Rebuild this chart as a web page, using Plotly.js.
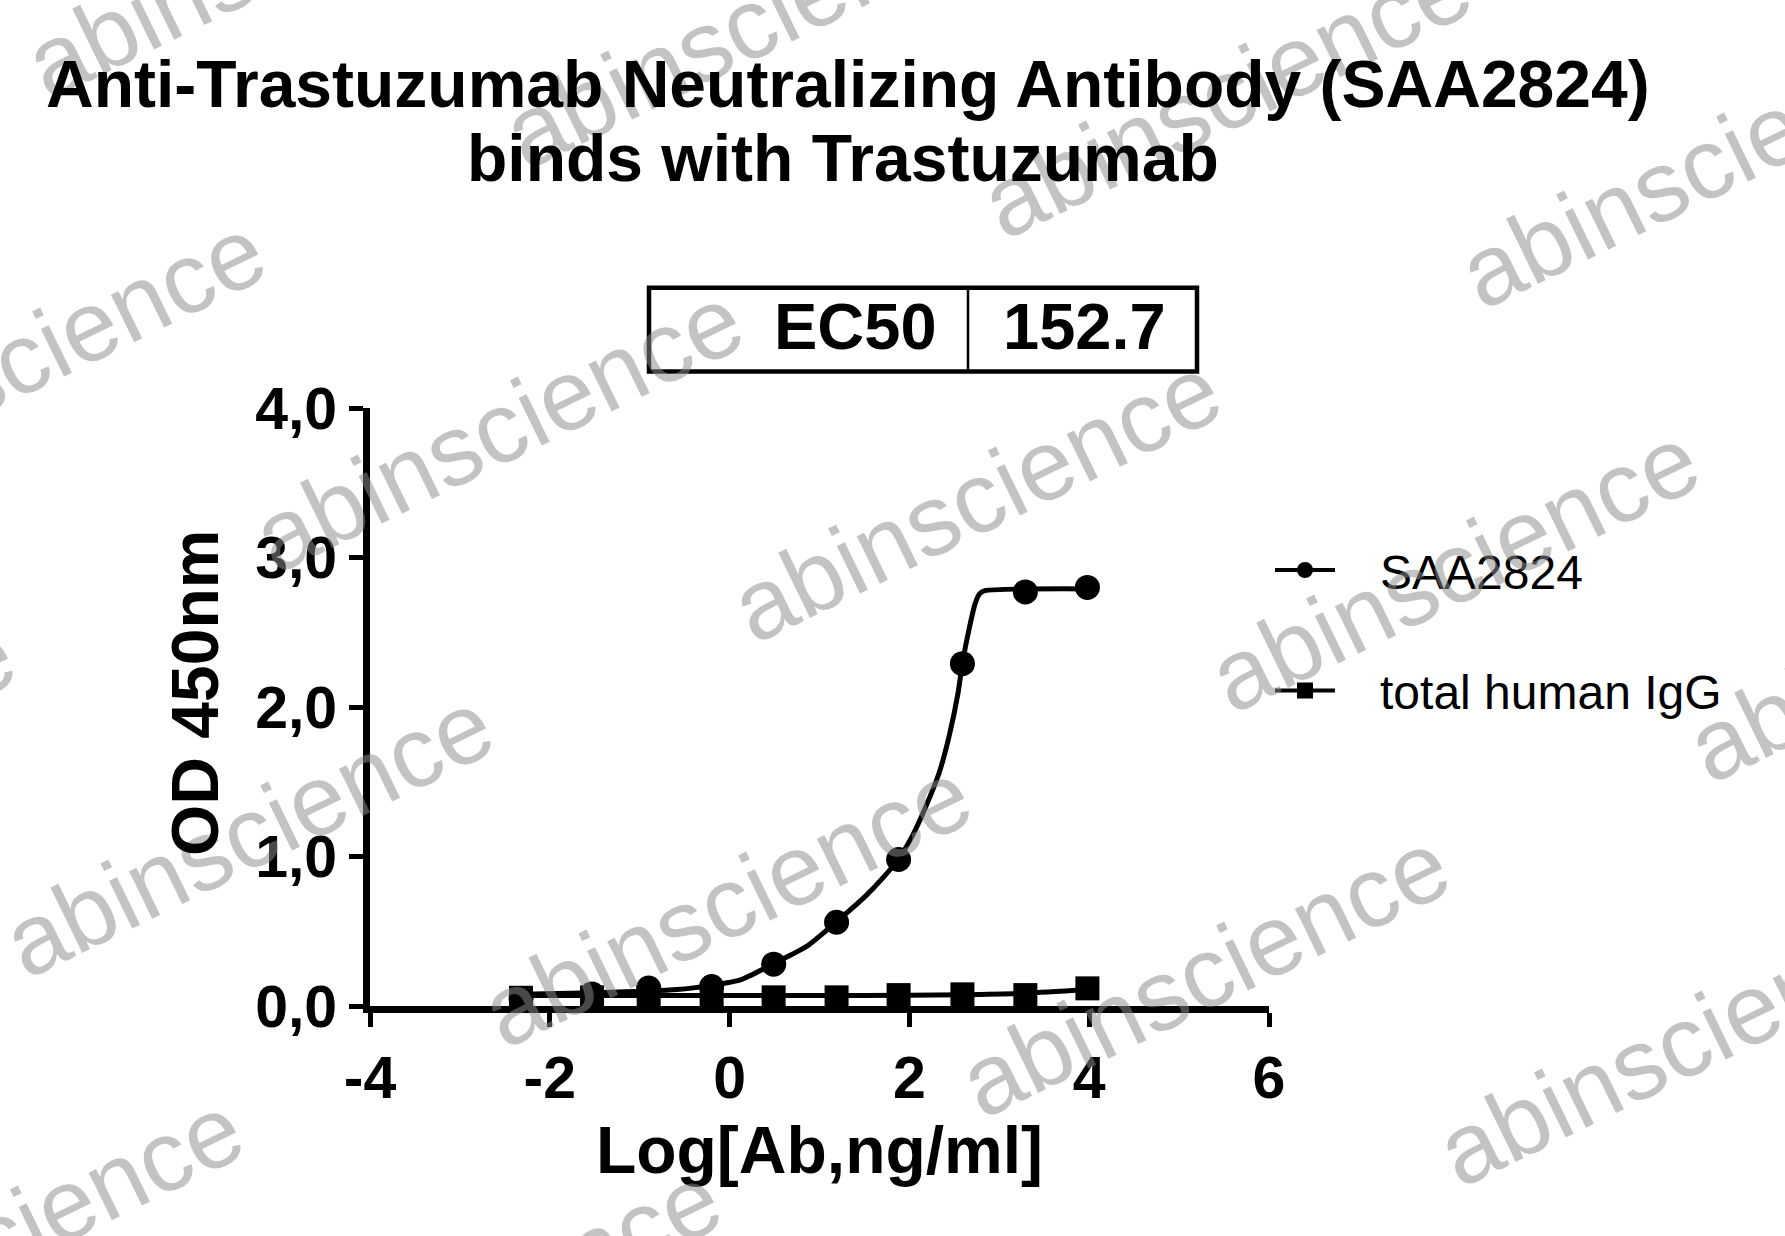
<!DOCTYPE html>
<html>
<head>
<meta charset="utf-8">
<script src="https://cdn.plot.ly/plotly-3.0.1.min.js"></script>
<style>html,body{margin:0;padding:0;background:#fff;}#chart{width:1785px;height:1236px;}</style>
</head>
<body>
<div id="chart"></div>
<script>
// ---- data ----
var logConc = [-2.32, -1.53, -0.90, -0.20, 0.49, 1.19, 1.88, 2.59, 3.29, 3.98];
var saaOD   = [0.05, 0.08, 0.12, 0.13, 0.28, 0.56, 0.98, 2.29, 2.77, 2.80];
var iggOD   = [0.055, 0.058, 0.058, 0.058, 0.058, 0.058, 0.073, 0.078, 0.073, 0.118];

// fitted curves
var saaFitX = [-2.32, -1.5, -0.58, -0.2, 0.12, 0.49, 0.86, 1.19, 1.52, 1.71, 1.88, 2.03, 2.18, 2.33, 2.44, 2.54, 2.59, 2.67, 2.73, 2.78, 2.84, 3.98];
var saaFitY = [0.078, 0.088, 0.11, 0.138, 0.174, 0.283, 0.40, 0.564, 0.74, 0.86, 0.984, 1.135, 1.33, 1.558, 1.80, 2.09, 2.293, 2.538, 2.69, 2.757, 2.778, 2.79];
var iggFitX = [-2.32, -1.0, 0.0, 1.0, 2.0, 2.6, 3.3, 3.98];
var iggFitY = [0.07, 0.07, 0.07, 0.07, 0.072, 0.076, 0.086, 0.11];

var seriesNames = ['SAA2824', 'total human IgG'];
var xTickVals = [-4, -2, 0, 2, 4, 6];
var xTickText = ['-4', '-2', '0', '2', '4', '6'];
var yTickVals = [0, 1, 2, 3, 4];
var yTickText = ['0,0', '1,0', '2,0', '3,0', '4,0'];
var tableLabels = ['EC50'];
var tableValues = ['152.7'];
var titleLines = ['Anti-Trastuzumab Neutralizing Antibody (SAA2824)', 'binds with Trastuzumab'];
var xTitle = 'Log[Ab,ng/ml]';
var yTitle = 'OD 450nm';
var watermarkText = 'abinscience';

// ---- layout geometry (pixels) ----
var W = 1785, H = 1236;
var M = {l: 370, r: 516, t: 407.5, b: 229.5};
var PW = W - M.l - M.r, PH = H - M.t - M.b;
function px(x) { return (x - M.l) / PW; }
function py(y) { return 1 - (y - M.t) / PH; }

var FONT = 'Liberation Sans, Arial, Helvetica, sans-serif';
var NB = '\u00a0\u00a0\u00a0';

var watermarkCenters = [
  [270, -47], [748, 23], [1226, 93], [1704, 163],
  [20, 358], [498, 428], [976, 498], [1454, 568], [1932, 638],
  [-230, 763], [248, 833], [726, 903], [1204, 973], [1682, 1043],
  [-2, 1238], [476, 1308]
];

var traces = [
  {x: iggFitX, y: iggFitY, mode: 'lines', line: {color: '#000', width: 5, shape: 'spline', smoothing: 0.6}, showlegend: false, hoverinfo: 'skip'},
  {x: saaFitX, y: saaFitY, mode: 'lines', line: {color: '#000', width: 5, shape: 'spline', smoothing: 0.6}, showlegend: false, hoverinfo: 'skip'},
  {x: logConc, y: iggOD, mode: 'markers', marker: {symbol: 'square', size: 24, color: '#000'}, showlegend: false, cliponaxis: false},
  {x: logConc, y: saaOD, mode: 'markers', marker: {symbol: 'circle', size: 25, color: '#000'}, showlegend: false, cliponaxis: false},
  {x: [null], y: [null], name: NB + seriesNames[0], mode: 'lines+markers', legendgroup: 'a', line: {color: '#000', width: 4}, marker: {symbol: 'circle', size: 25, color: '#000'}},
  {x: [null], y: [null], name: NB + seriesNames[1], mode: 'lines+markers', legendgroup: 'b', line: {color: '#000', width: 4}, marker: {symbol: 'square', size: 24, color: '#000'}}
];

var annotations = [];
watermarkCenters.forEach(function (c) {
  annotations.push({
    xref: 'paper', yref: 'paper', x: px(c[0]), y: py(c[1]),
    xanchor: 'center', yanchor: 'middle', showarrow: false,
    text: watermarkText, textangle: -26,
    font: {family: FONT, size: 100, color: 'rgba(140,140,140,0.52)'}
  });
});
annotations.push({xref: 'paper', yref: 'paper', x: px(848), y: py(83), xanchor: 'center', yanchor: 'middle', showarrow: false,
  text: titleLines[0], font: {family: FONT, size: 66, weight: 'bold', color: '#000'}});
annotations.push({xref: 'paper', yref: 'paper', x: px(843), y: py(157), xanchor: 'center', yanchor: 'middle', showarrow: false,
  text: titleLines[1], font: {family: FONT, size: 66, weight: 'bold', color: '#000'}});
annotations.push({xref: 'paper', yref: 'paper', x: px(855), y: py(326), xanchor: 'center', yanchor: 'middle', showarrow: false,
  text: tableLabels[0], font: {family: FONT, size: 65, weight: 'bold', color: '#000'}});
annotations.push({xref: 'paper', yref: 'paper', x: px(1084), y: py(326), xanchor: 'center', yanchor: 'middle', showarrow: false,
  text: tableValues[0], font: {family: FONT, size: 65, weight: 'bold', color: '#000'}});
annotations.push({xref: 'paper', yref: 'paper', x: px(195), y: py(693), xanchor: 'center', yanchor: 'middle', showarrow: false,
  text: yTitle, textangle: -90, font: {family: FONT, size: 66, weight: 'bold', color: '#000'}});

var shapes = [
  {type: 'rect', xref: 'paper', yref: 'paper', x0: px(649), x1: px(1197), y0: py(287), y1: py(371), line: {color: '#000', width: 4.5}},
  {type: 'line', xref: 'paper', yref: 'paper', x0: px(968), x1: px(968), y0: py(287), y1: py(371), line: {color: '#000', width: 2.5}}
];

var axisCommon = {
  showline: true, linecolor: '#000', linewidth: 7,
  ticks: 'outside', ticklen: 14, tickwidth: 5, tickcolor: '#000',
  showgrid: false, zeroline: false, fixedrange: true,
  tickfont: {family: FONT, size: 59, weight: 'bold', color: '#000'}
};

var layout = {
  width: W, height: H,
  margin: M,
  paper_bgcolor: '#fff', plot_bgcolor: 'rgba(0,0,0,0)',
  showlegend: true,
  legend: {
    x: px(1270), y: py(532), xanchor: 'left', yanchor: 'top',
    font: {family: FONT, size: 48, color: '#000'},
    tracegroupgap: 55, itemwidth: 60, bgcolor: 'rgba(0,0,0,0)'
  },
  xaxis: Object.assign({}, axisCommon, {
    range: [-4, 6], tickmode: 'array', tickvals: xTickVals, ticktext: xTickText,
    title: {text: xTitle, font: {family: FONT, size: 66, weight: 'bold', color: '#000'}, standoff: 20}
  }),
  yaxis: Object.assign({}, axisCommon, {
    range: [0, 4], tickmode: 'array', tickvals: yTickVals, ticktext: yTickText
  }),
  annotations: annotations,
  shapes: shapes
};

Plotly.newPlot('chart', traces, layout, {staticPlot: true, displayModeBar: false});
</script>
</body>
</html>
